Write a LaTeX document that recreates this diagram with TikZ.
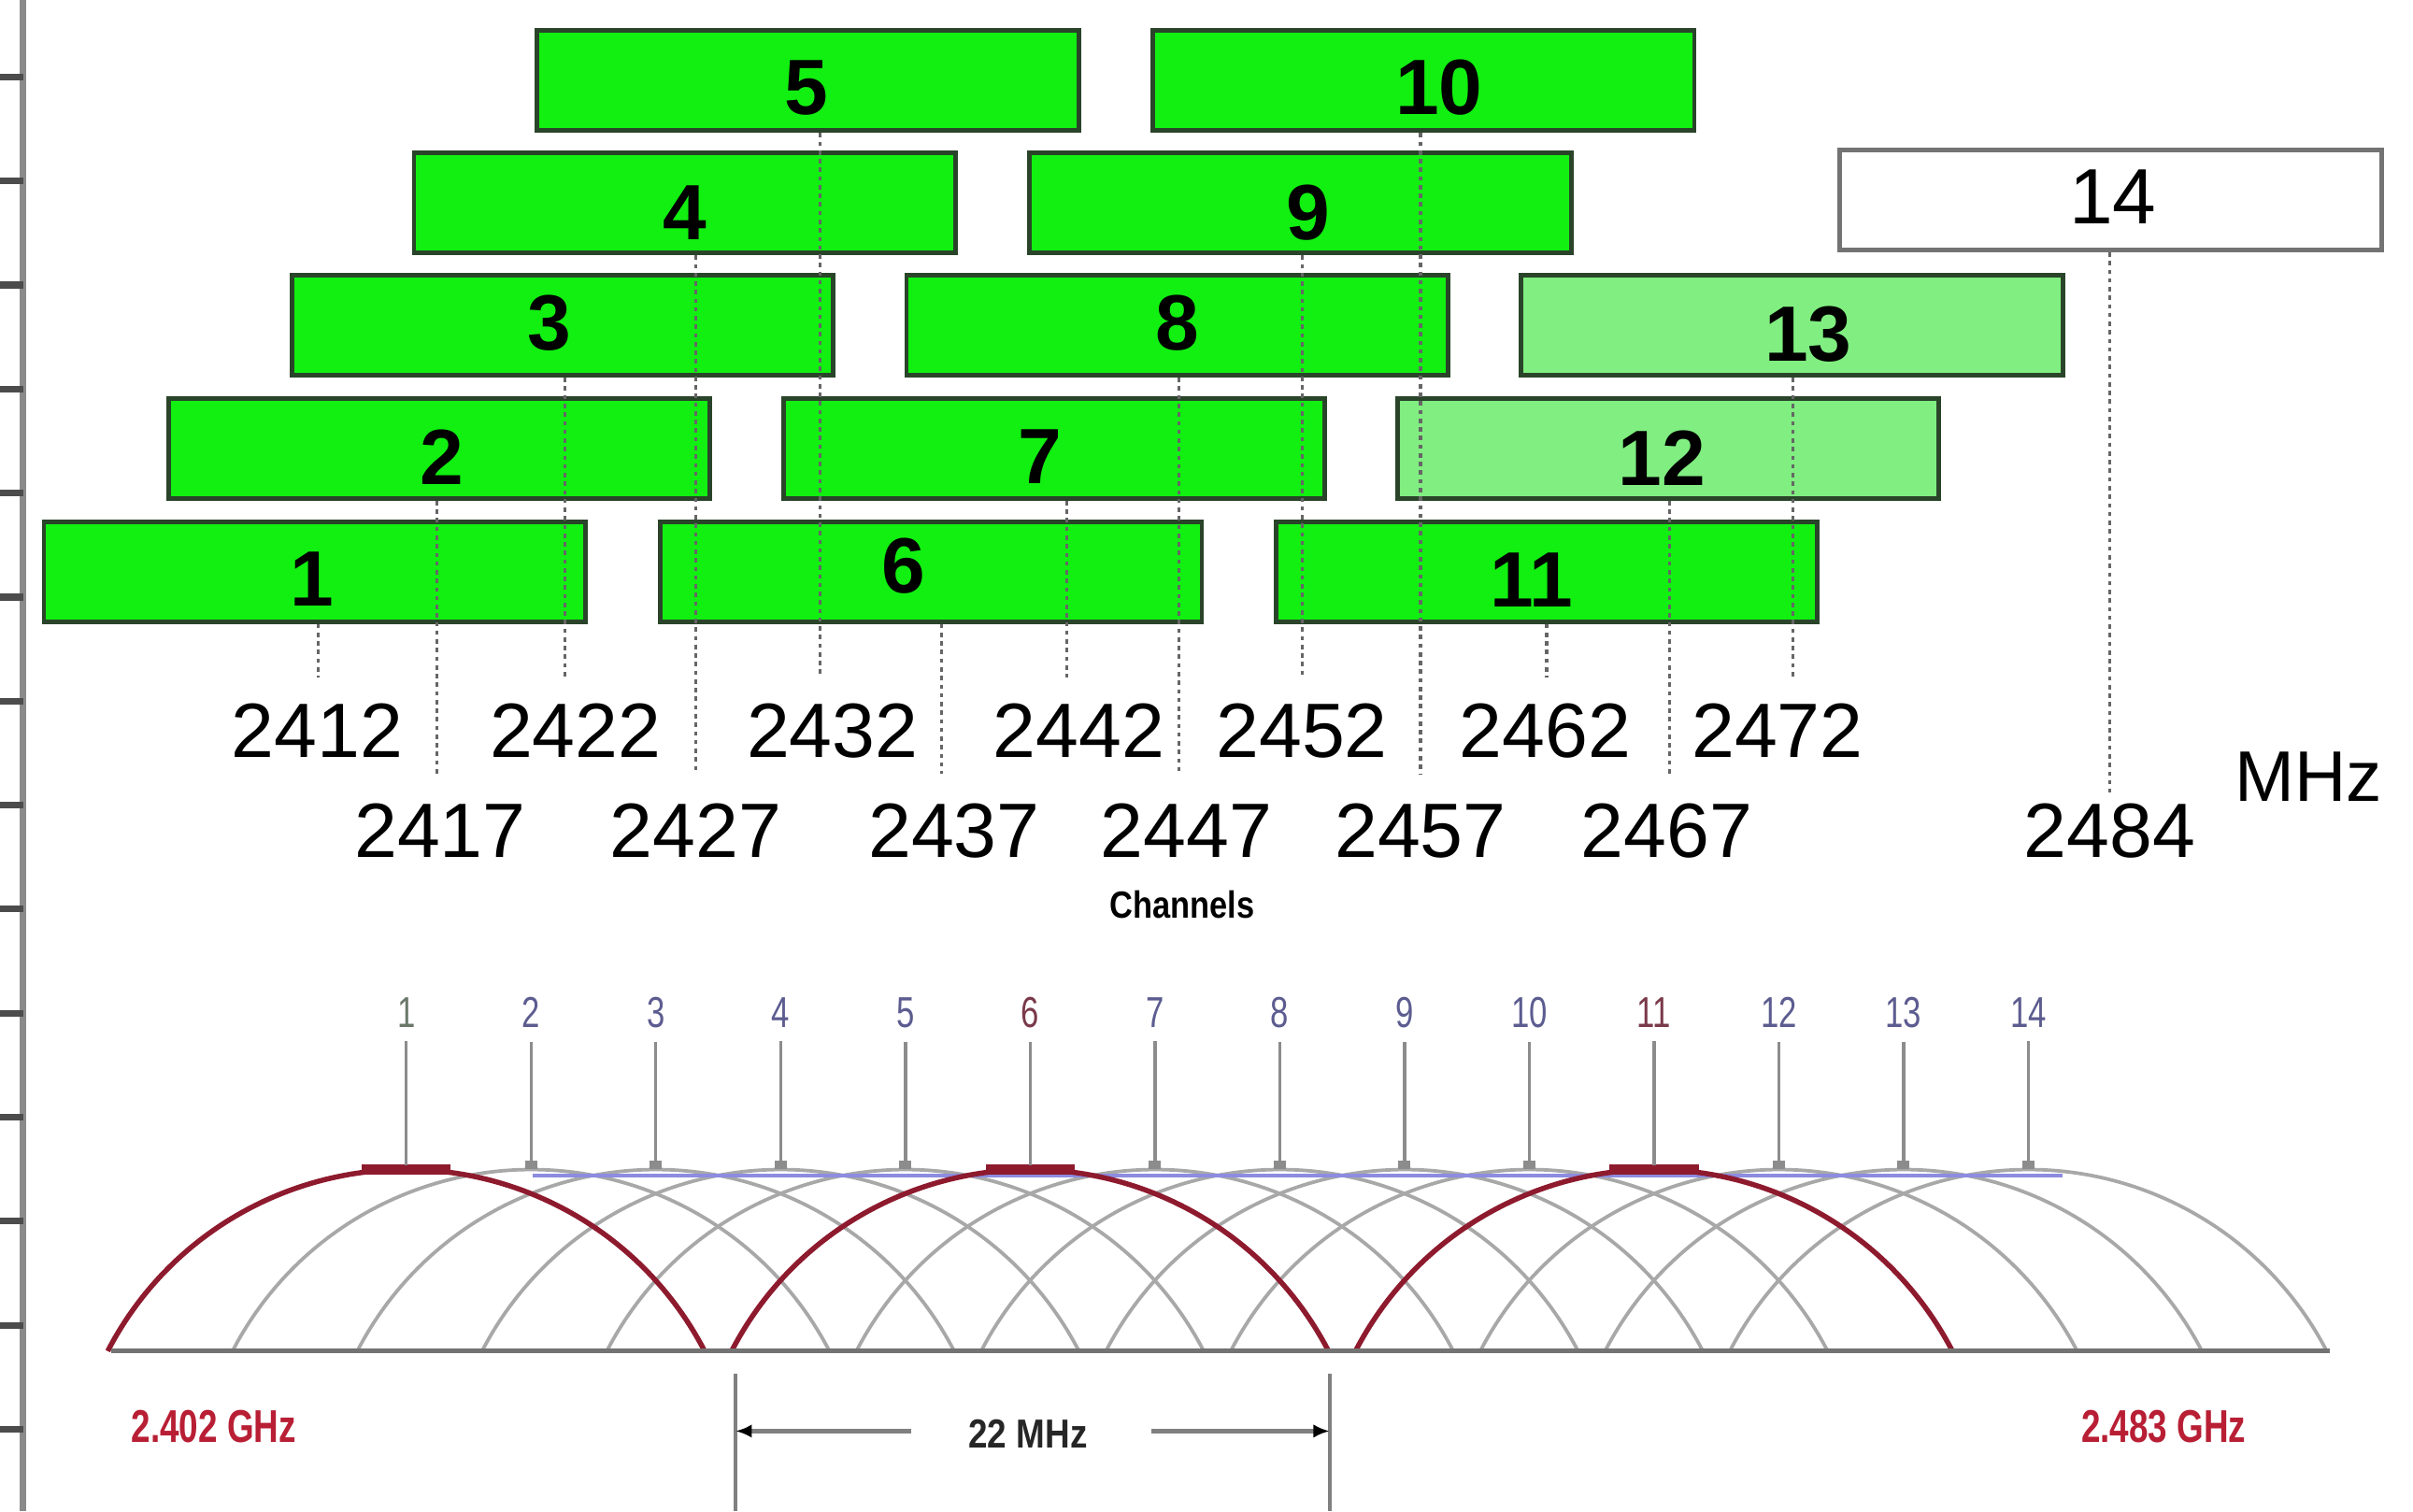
\documentclass[tikz,border=0pt]{standalone}
\usepackage{fontspec}
\setmainfont{Liberation Sans}
\newfontfamily\narrowf[FakeStretch=0.75]{Liberation Sans}
\newfontfamily\condf[FakeStretch=0.85]{Liberation Sans}
\usetikzlibrary{arrows.meta}
\definecolor{boxgreen}{HTML}{11F011}
\definecolor{lightgreen}{HTML}{80EE80}
\definecolor{boxline}{HTML}{2A442A}
\definecolor{arcred}{HTML}{8E1A2E}
\definecolor{ghzred}{HTML}{B81E34}
\definecolor{chblue}{HTML}{5C5C90}
\definecolor{chred}{HTML}{7A3A4A}
\definecolor{chgray}{HTML}{6A786A}
\definecolor{arcgray}{HTML}{A8A8A8}
\definecolor{topblue}{HTML}{8C8CE0}
\definecolor{axisgray}{HTML}{8A8A8A}
\begin{document}
\begin{tikzpicture}[x=0.02cm,y=-0.02cm,
  chbox/.style={draw=boxline, line width=1.7pt, fill=boxgreen, minimum width=7.04cm, minimum height=1.3cm, inner sep=0pt},
  boxlab/.style={inner sep=0pt, font=\fontsize{29}{29}\selectfont\bfseries},
  freq/.style={inner sep=0pt, font=\fontsize{28.5}{28.5}\selectfont},
  dotl/.style={draw=black!60, line width=1.1pt, dash pattern=on 1.6pt off 1.6pt},
  chnum/.style={inner sep=0pt, font=\fontsize{16}{16}\selectfont\narrowf},
  vline/.style={draw=black!45, line width=1.2pt},
  grayarc/.style={draw=arcgray, line width=1.3pt},
  redarc/.style={draw=arcred, line width=1.9pt},
  baseline/.style={draw=black!55, line width=1.8pt},
  dimline/.style={draw=black!50, line width=1.5pt},
  ghz/.style={inner sep=0pt, text=ghzred, font=\fontsize{17}{17}\selectfont\narrowf\bfseries},
  axisline/.style={draw=axisgray, line width=2.3pt},
  tickmark/.style={draw=black!70, line width=2.5pt},
  footsq/.style={fill=black!45, minimum width=0.16cm, minimum height=0.12cm, inner sep=0pt},
  apexbar/.style={fill=arcred, minimum width=1.16cm, minimum height=0.13cm, inner sep=0pt}]
\fill[white] (0,0) rectangle (1568,982);
\useasboundingbox (0,0) rectangle (1568,982);

% left axis
\coordinate (axt) at (15,0);
\coordinate (axb) at (15,982);
\draw[axisline] (axt) -- (axb);
\foreach \i in {0,...,13}{
  \coordinate (tk\i) at (0,{50+67.6*\i});
  \draw[tickmark] (tk\i) -- (tk\i -| axt);
}

% channel boxes
\node[chbox] (c1) at (204.5,371.5) {};
\node[chbox] (c2) at (285.5,291.5) {};
\node[chbox] (c3) at (365.5,211.5) {};
\node[chbox] (c4) at (445,132) {};
\node[chbox] (c5) at (525,52.5) {};
\node[chbox] (c6) at (605,371.5) {};
\node[chbox] (c7) at (685,291.5) {};
\node[chbox] (c8) at (765,211.5) {};
\node[chbox] (c9) at (845,132) {};
\node[chbox] (c10) at (925,52.5) {};
\node[chbox] (c11) at (1005,371.5) {};
\node[chbox, fill=lightgreen] (c12) at (1084,291.5) {};
\node[chbox, fill=lightgreen] (c13) at (1164.5,211.5) {};
\node[chbox, fill=white, draw=black!55] (c14) at (1371.5,130) {};

% box labels
\node[boxlab] (l1) at (203,376) {1};
\node[boxlab] (l2) at (287,297) {2};
\node[boxlab] (l3) at (357,210) {3};
\node[boxlab] (l4) at (445,138) {4};
\node[boxlab] (l5) at (524,57) {5};
\node[boxlab] (l6) at (587,368) {6};
\node[boxlab] (l7) at (676,297) {7};
\node[boxlab] (l8) at (765,210) {8};
\node[boxlab] (l9) at (850,138) {9};
\node[boxlab] (l10) at (935,57) {10};
\node[boxlab] (l11) at (995,377) {11};
\node[boxlab] (l12) at (1080,298) {12};
\node[boxlab] (l13) at (1175,217) {13};
\node[boxlab, font=\fontsize{29}{29}\selectfont] (l14) at (1373,128) {14};

% frequency labels
\node[freq] (f1) at (206,475) {2412};
\node[freq] (f2) at (286,540) {2417};
\node[freq] (f3) at (374,475) {2422};
\node[freq] (f4) at (452,540) {2427};
\node[freq] (f5) at (541,475) {2432};
\node[freq] (f6) at (620,540) {2437};
\node[freq] (f7) at (701,475) {2442};
\node[freq] (f8) at (771,540) {2447};
\node[freq] (f9) at (846,475) {2452};
\node[freq] (f10) at (923,540) {2457};
\node[freq] (f11) at (1004,475) {2462};
\node[freq] (f12) at (1083,540) {2467};
\node[freq] (f13) at (1155,475) {2472};
\node[freq] (f14) at (1371,540) {2484};
\node[inner sep=0pt, font=\fontsize{26.5}{26.5}\selectfont] (mhz) at (1500,505) {MHz};

% dotted centre lines
\foreach \k/\xx/\yy in {1/207/440,2/284/503,3/367/440,4/452/503,5/533/440,6/612/503,7/693/440,
  8/766/503,9/846/440,10/923/503,11/1005/440,12/1085/503,13/1165/440,14/1371/515}{
  \coordinate (d\k) at (\xx,\yy);
  \draw[dotl] (c\k.south -| d\k) -- (d\k);
}

\node[inner sep=0pt, font=\fontsize{14}{14}\selectfont\condf\bfseries] (chan) at (768,588) {Channels};

% lower spectrum diagram
\foreach \k in {2,3,4,5,7,8,9,10,12,13,14}{
  \pgfmathsetmacro\xa{264+81.08*(\k-1)-194}
  \coordinate (af\k) at (\xa,878);
  \draw[grayarc] (af\k) arc[start angle=152.6, end angle=27.4, radius=4.37cm];
}
\coordinate (blue1) at (346,764);
\coordinate (blue2) at (1340,764);
\draw[draw=topblue, line width=1.5pt] (blue1) -- (blue2);
\foreach \k in {1,6,11}{
  \pgfmathsetmacro\xa{264+81.08*(\k-1)-194}
  \coordinate (af\k) at (\xa,878);
  \draw[redarc] (af\k) arc[start angle=152.6, end angle=27.4, radius=4.37cm];
  \pgfmathsetmacro\xc{264+81.08*(\k-1)}
  \node[apexbar] (ap\k) at (\xc,760) {};
}
\coordinate (bl) at (72,878);
\coordinate (br) at (1514,878);
\draw[baseline] (bl) -- (br);

\foreach \k/\cc in {1/chgray,2/chblue,3/chblue,4/chblue,5/chblue,6/chred,7/chblue,8/chblue,
  9/chblue,10/chblue,11/chred,12/chblue,13/chblue,14/chblue}{
  \pgfmathsetmacro\xx{264+81.08*(\k-1)}
  \node[chnum, text=\cc] (b\k) at (\xx,658) {\k};
  \coordinate (tp\k) at (\xx,757);
  \draw[vline] ([yshift=-5pt]b\k.south) -- (tp\k);
}
\foreach \k in {2,3,4,5,7,8,9,10,12,13,14}{
  \node[footsq] (sq\k) at (tp\k) {};
}

% 22 MHz dimension
\coordinate (dl1) at (478,893);
\coordinate (dl2) at (478,982);
\coordinate (dr1) at (864,893);
\coordinate (dr2) at (864,982);
\draw[dimline] (dl1) -- (dl2);
\draw[dimline] (dr1) -- (dr2);
\node[inner sep=0pt, font=\fontsize{15}{15}\selectfont\condf\bfseries, text=black!85] (m22) at (668,932) {22 MHz};
\coordinate (al) at (592,930);
\coordinate (ar) at (748,930);
\draw[dimline, -{Latex[length=6pt,width=5pt,color=black]}] (al) -- (al -| dl1);
\draw[dimline, -{Latex[length=6pt,width=5pt,color=black]}] (ar) -- (ar -| dr1);

\node[ghz] (g1) at (139,927) {2.402 GHz};
\node[ghz] (g2) at (1406,927) {2.483 GHz};
\end{tikzpicture}
\end{document}
